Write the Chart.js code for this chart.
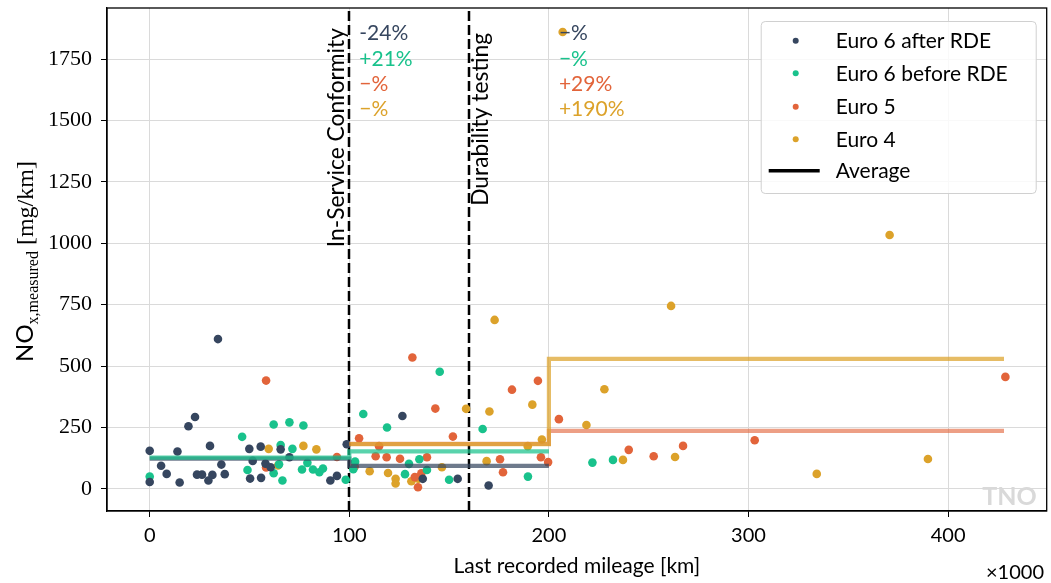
<!DOCTYPE html>
<html><head><meta charset="utf-8">
<script src="https://cdn.jsdelivr.net/npm/chart.js@4/dist/chart.umd.min.js"></script>
<style>html,body{margin:0;padding:0;background:#fff;}#wrap{width:1051px;height:583px;}</style>
</head><body><div id="wrap"><canvas id="c" width="1051" height="583"></canvas></div>
<script>
// ---------- data ----------
const seriesNames = ['Euro 6 after RDE', 'Euro 6 before RDE', 'Euro 5', 'Euro 4'];
const seriesColors = ['#36465f', '#19c28c', '#e2643a', '#dca22a'];
const lineColors = ['rgba(54,70,95,0.72)', 'rgba(25,194,140,0.72)', 'rgba(226,100,58,0.62)', 'rgba(220,162,42,0.72)'];

const e6aX = [0,0,5.7,8.5,13.9,15,19.4,22.7,23.7,26.2,29.4,30.2,31.4,34.2,35.9,37.6,49.9,50.3,51.6,55.6,55.8,58,60.6,65.6,70,90.5,93.8,98.7,126.6,136.8,154.3,169.8];
const e6aY = [155,28,94,61,152,26,255,293,58,58,34,175,57,610,99,60,163,42,114,172,45,103,88,161,129,34,53,182,297,41,41,14];

const e6bX = [0,46.3,49,62.1,62.1,64.8,65.6,66.5,70,71.5,77,76.3,79,81.8,85,86.8,98.2,102,102.9,107,118.9,127.9,129.9,135.1,138.9,145.3,150,166.8,189.5,221.8,232.1];
const e6bY = [50,212,77,262,64,100,179,34,271,163,258,79,106,79,68,83,37,80,111,305,250,60,102,121,77,477,37,244,50,107,118];

const e5X = [58.3,58.3,93.8,102.7,104.9,113.2,114.9,118.7,125.4,131.6,132.8,134.4,136.1,138.9,143.1,151.9,175.5,177,181.5,194.5,196,199.6,205,240,252.5,267.2,303.1,428.7];
const e5Y = [441,87,130,91,206,133,174,129,123,535,48,7,64,129,327,213,121,68,404,440,129,109,284,159,133,175,198,456];

const e4X = [59.6,64.3,77,83.5,110.2,119.4,123.2,123.2,131.1,134.6,146.4,158.5,168.8,170.2,172.8,189.4,191.7,196.5,206.9,218.8,227.8,237.1,261.2,263.2,334.2,370.7,389.9];
const e4Y = [163,95,175,161,72,65,41,22,31,41,88,326,113,315,688,174,343,201,1860,260,406,118,745,130,61,1034,122];

// averages per mileage bin (bin edges: 0,100,200,428); null = no average
const binEdges = [0, 100, 200, 428];
const avgE6a = [123, 94, null];
const avgE6b = [127, 153, null];
const avgE5  = [null, 183, 236];
const avgE4  = [null, 182, 529];

const xTicks = [0, 100, 200, 300, 400];
const yTicks = [0, 250, 500, 750, 1000, 1250, 1500, 1750];
const markerLines = [100, 160];
const markerLabels = ['In-Service Conformity', 'Durability testing'];
const pctAt100 = ['-24%', '+21%', '\u2212%', '\u2212%'];
const pctAt200 = ['\u2212%', '\u2212%', '+29%', '+190%'];

// ---------- build ----------
function pts(xs, ys) { return xs.map((x, i) => ({ x: x, y: ys[i] })); }
function stepPts(avg) {
  const out = [];
  let last = null;
  for (let i = 0; i < avg.length; i++) {
    if (avg[i] === null) continue;
    out.push({ x: binEdges[i], y: avg[i] });
    last = i;
  }
  if (last !== null) out.push({ x: binEdges[last + 1], y: avg[last] });
  return out;
}
const allX = [e6aX, e6bX, e5X, e4X];
const allY = [e6aY, e6bY, e5Y, e4Y];
const allAvg = [avgE6a, avgE6b, avgE5, avgE4];

const datasets = [];
const lineOrder = [1, 0, 3, 2];
allAvg.forEach((a, i) => {
  datasets.push({
    type: 'line', data: stepPts(a), stepped: 'before', showLine: true,
    borderColor: lineColors[i], borderWidth: 4.2, pointRadius: 0, fill: false,
    order: lineOrder[i], borderCapStyle: 'butt', borderJoinStyle: 'miter'
  });
});
allX.forEach((xs, i) => {
  datasets.push({
    type: 'scatter', data: pts(xs, allY[i]), backgroundColor: seriesColors[i],
    borderWidth: 0, pointRadius: 4.3, pointHoverRadius: 4.3, order: 10 + i
  });
});

const SANS = 'Lato, "DejaVu Sans", sans-serif';
const SERIF = '"Liberation Serif", "DejaVu Serif", serif';

const decor = {
  id: 'decor',
  beforeDatasetsDraw(chart) {
    const { ctx, chartArea: a, scales: { x } } = chart;
    ctx.save();
    ctx.strokeStyle = '#000';
    ctx.lineWidth = 2.5;
    ctx.setLineDash([10, 4]);
    markerLines.forEach(v => {
      const px = Math.round(x.getPixelForValue(v));
      ctx.beginPath(); ctx.moveTo(px, a.bottom); ctx.lineTo(px, a.top); ctx.stroke();
    });
    ctx.restore();
  },
  afterDraw(chart) {
    const { ctx, chartArea: a, scales: { x, y } } = chart;
    ctx.save();
    ctx.strokeStyle = '#000'; ctx.lineWidth = 1.3;
    ctx.strokeRect(a.left, a.top, a.right - a.left, a.bottom - a.top);

    // rotated marker labels
    ctx.fillStyle = '#000';
    ctx.font = '22.8px ' + SANS;
    ctx.textAlign = 'right'; ctx.textBaseline = 'alphabetic';
    const rot = [{ bx: x.getPixelForValue(markerLines[0]) - 5, ty: a.top + 20 },
                 { bx: x.getPixelForValue(markerLines[1]) + 19, ty: a.top + 25 }];
    markerLabels.forEach((t, i) => {
      ctx.save();
      ctx.translate(rot[i].bx, rot[i].ty);
      ctx.rotate(-Math.PI / 2);
      ctx.fillText(t, 0, 0);
      ctx.restore();
    });

    // percentage annotations
    ctx.font = '21px ' + SANS;
    ctx.textAlign = 'left';
    const rowY = [32, 58, 83, 108];
    [[100, pctAt100], [200, pctAt200]].forEach(([v, arr]) => {
      const px = x.getPixelForValue(v) + 10;
      arr.forEach((t, i) => {
        ctx.fillStyle = seriesColors[i];
        ctx.fillText(t, px, a.top + rowY[i]);
      });
    });

    // legend
    const lx = a.right - 286, ly = a.top + 13, lw = 275, lh = 172;
    ctx.fillStyle = 'rgba(255,255,255,0.82)';
    ctx.strokeStyle = '#d0d0d0'; ctx.lineWidth = 1;
    ctx.beginPath();
    if (ctx.roundRect) ctx.roundRect(lx + 0.5, ly + 0.5, lw, lh, 4); else ctx.rect(lx + 0.5, ly + 0.5, lw, lh);
    ctx.fill(); ctx.stroke();
    ctx.font = '21px ' + SANS;
    ctx.textBaseline = 'middle'; ctx.textAlign = 'left';
    const rows = [19.7, 52.3, 85.7, 118.3, 149.7];
    seriesNames.forEach((n, i) => {
      ctx.fillStyle = seriesColors[i];
      ctx.beginPath(); ctx.arc(lx + 35, ly + rows[i], 3, 0, Math.PI * 2); ctx.fill();
      ctx.fillStyle = '#000';
      ctx.fillText(n, lx + 75, ly + rows[i] + 1);
    });
    ctx.strokeStyle = '#000'; ctx.lineWidth = 3.5;
    ctx.beginPath(); ctx.moveTo(lx + 8, ly + rows[4]); ctx.lineTo(lx + 59, ly + rows[4]); ctx.stroke();
    ctx.fillStyle = '#000';
    ctx.fillText('Average', lx + 75, ly + rows[4] + 1);

    // y axis label
    ctx.save();
    ctx.translate(33, 0);
    ctx.rotate(-Math.PI / 2);
    const partA = 'NO', partB = 'x,measured', partC = ' [mg/km]';
    const fA = '24px ' + SANS, fB = '16px ' + SERIF, fC = '24px ' + SERIF;
    ctx.font = fA; const wA = ctx.measureText(partA).width;
    ctx.font = fB; const wB = ctx.measureText(partB).width;
    ctx.font = fC; const wC = ctx.measureText(partC).width;
    const total = wA + wB + wC;
    const cy = (a.top + a.bottom) / 2 + 2;
    let sx = -cy - total / 2;
    ctx.textAlign = 'left'; ctx.textBaseline = 'alphabetic'; ctx.fillStyle = '#000';
    ctx.font = fA; ctx.fillText(partA, sx, 0); sx += wA;
    ctx.font = fB; ctx.fillText(partB, sx, 5); sx += wB;
    ctx.font = fC; ctx.fillText(partC, sx, 0);
    ctx.restore();

    // x axis label
    ctx.font = '21px ' + SANS; ctx.textAlign = 'center'; ctx.textBaseline = 'middle'; ctx.fillStyle = '#000';
    ctx.fillText('Last recorded mileage [km]', (a.left + a.right) / 2, 566);
    ctx.font = '20px ' + SANS; ctx.textAlign = 'right'; ctx.textBaseline = 'alphabetic';
    ctx.fillText('\u00d71000', 1044, 579);
    ctx.font = 'bold 25px ' + SANS; ctx.fillStyle = '#d9d9d9';
    ctx.fillText('TNO', a.right - 10, a.bottom - 6);
    ctx.restore();
  }
};

new Chart(document.getElementById('c'), {
  type: 'scatter',
  data: { datasets: datasets },
  options: {
    responsive: false, animation: false, devicePixelRatio: 1,
    layout: { padding: { top: 8, right: 4, left: 0, bottom: 0 } },
    plugins: { legend: { display: false }, tooltip: { enabled: false } },
    events: [],
    scales: {
      x: {
        type: 'linear', min: -21.4, max: 449.4,
        afterBuildTicks: s => { s.ticks = xTicks.map(v => ({ value: v })); },
        afterFit: s => { s.height = 72; s.paddingLeft = 0; s.paddingRight = 0; },
        grid: { color: '#dadada', lineWidth: 1, tickColor: '#000', tickLength: 6, drawTicks: true },
        border: { display: true, color: '#000', width: 1.3 },
        ticks: { color: '#000', font: { family: SANS, size: 20 }, padding: 7, maxRotation: 0, callback: v => String(v) }
      },
      y: {
        type: 'linear', min: -90, max: 1958,
        afterBuildTicks: s => { s.ticks = yTicks.map(v => ({ value: v })); },
        afterFit: s => { s.width = 107; s.paddingTop = 0; s.paddingBottom = 0; },
        grid: { color: '#dadada', lineWidth: 1, tickColor: '#000', tickLength: 6, drawTicks: true },
        border: { display: true, color: '#000', width: 1.3 },
        ticks: { color: '#000', font: { family: SERIF, size: 22 }, padding: 9, callback: v => String(v) }
      }
    }
  },
  plugins: [decor]
});
</script></body></html>
